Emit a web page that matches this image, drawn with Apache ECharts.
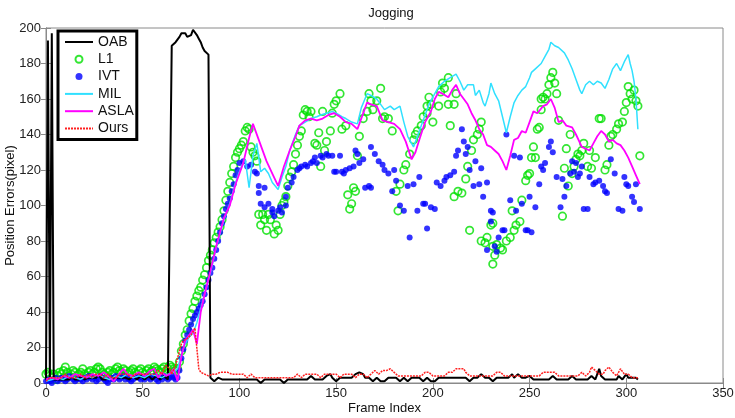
<!DOCTYPE html>
<html>
<head>
<meta charset="utf-8">
<script src="https://cdn.jsdelivr.net/npm/echarts@6/dist/echarts.min.js"></script>
<style>
html, body { margin: 0; padding: 0; background: #fff; }
#chart { width: 735px; height: 418px; }
</style>
</head>
<body>
<div id="chart"></div>
<script>
// error per frame (frame = index)
var oabErr = [
  2,193,3,197,2,1,2,3,2,1,2,3,2,4,3,2,3,2,4,3,2,1,3,4,3,2,3,5,4,2,3,2,1,3,4,3,2,3,4,3,
  2,3,4,2,3,4,3,2,3,4,3,2,3,4,3,2,3,4,3,2,3,4,3,2,3,
  190,191,192,193,195,197,198,197,195,194,196,199,198,196,194,192,189,187,186,185,
  3,2,1,2,3,4,2,1,2,3,2,1,2,1,2,
  1,2,3,2,1,2,1,2,3,2,1,0,1,2,1,2,3,2,1,2,
  1,2,1,0,1,2,1,2,3,2,1,2,3,2,1,2,3,4,3,2,
  1,2,3,2,3,4,3,5,3,2,1,2,3,2,3,4,3,2,3,4,
  5,4,6,7,5,3,2,3,2,1,2,3,2,1,2,1,2,3,2,3,
  4,3,2,1,2,3,2,1,2,3,4,3,4,3,2,1,2,3,2,1,
  2,1,2,3,2,3,4,3,2,3,2,3,4,3,2,3,4,3,2,1,
  2,3,2,3,4,5,4,3,2,3,2,1,2,3,2,3,2,3,4,3,
  4,5,3,4,5,4,3,2,3,4,4,3,2,3,2,3,2,1,2,3,
  2,3,4,3,2,1,2,3,2,3,2,3,4,3,2,3,2,1,2,3,
  2,3,4,3,2,3,8,4,3,2,3,2,1,2,3,2,4,3,2,3,
  5,3,2,3,2,3,2
];

var oursErr = [
  1,2,3,2,3,4,3,2,3,4,5,4,3,2,3,4,3,4,5,4,3,4,5,4,3,4,5,6,5,4,3,4,5,4,3,2,3,4,5,6,
  5,4,5,4,3,4,5,4,5,6,5,4,5,6,5,4,5,6,7,6,5,8,10,
  11,8,5,6,10,14,18,22,24,24,25,26,27,29,31,30,8,6,5,5,5,4,
  4,5,6,5,4,6,7,6,5,6,7,5,6,5,4,
  5,6,5,4,3,4,5,4,3,2,3,4,3,2,3,2,3,4,3,2,
  3,2,3,4,3,2,3,4,3,4,5,4,3,4,5,4,5,6,5,4,
  5,4,3,4,5,6,5,4,5,6,5,4,3,4,5,4,5,6,5,4,
  3,4,5,4,5,4,3,4,5,6,7,6,5,6,7,8,7,8,8,7,
  6,5,4,3,4,5,4,3,4,5,4,3,4,5,4,5,6,5,6,5,
  4,3,4,5,4,3,4,5,6,5,6,7,8,7,8,7,8,6,5,4,
  3,4,3,4,5,4,3,4,5,4,3,4,5,6,5,6,5,4,3,4,
  3,4,3,4,3,4,5,4,3,4,3,4,3,4,5,4,5,6,5,6,
  5,6,5,6,5,4,3,4,5,4,3,4,5,4,3,4,5,6,5,4,
  5,6,9,8,7,6,5,4,5,7,8,9,8,6,5,4,6,8,7,5,
  4,5,4,3,4,3,3
];

// [frame, error]
var milPts = [
  [0,1],[3,2],[6,3],[9,2],[12,4],[15,3],[18,2],[21,4],[24,3],[27,5],[30,3],[33,2],[36,4],[39,3],
  [42,5],[45,3],[48,4],[51,3],[54,5],[57,4],[60,3],[63,5],[66,6],[68,8],[70,16],[72,22],[74,26],
  [76,28],[78,34],[80,42],[82,50],[85,62],[88,76],[92,92],[95,101],[98,113],[101,122],[103,126],
  [105,110],[107,128],[109,135],[111,119],[113,121],[115,118],[117,113],[120,109],[122,116],
  [124,122],[126,131],[129,140],[131,145],[134,147],[137,149],[140,150],[142,151],[145,152],
  [148,153],[150,152],[153,150],[155,149],[158,147],[161,146],[163,155],[166,163],[168,162],
  [171,160],[173,157],[175,154],[178,156],[180,154],[183,156],[185,147],[187,139],[190,133],
  [193,142],[196,151],[198,157],[200,161],[203,167],[206,170],[209,172],[212,174],[214,170],
  [216,165],[218,168],[221,168],[222,162],[224,165],[226,158],[227,156],[229,163],[230,169],
  [232,163],[234,159],[236,150],[238,141],[240,150],[242,158],[244,162],[246,165],[248,167],
  [250,172],[251,175],[253,177],[256,180],[258,184],[260,188],[261,192],[263,190],[265,189],
  [268,186],[270,182],[272,177],[274,171],[276,165],[277,163],[279,168],[281,170],[283,168],
  [285,170],[287,169],[289,166],[291,171],[293,177],[295,180],[297,176],[299,181],[301,185],
  [302,180],[303,176],[304,170],[305,160],[306,143]
];

var aslaPts = [
  [0,2],[3,3],[6,2],[9,4],[12,3],[15,5],[18,4],[21,3],[24,5],[27,4],[30,6],[33,3],[35,1],[37,4],
  [40,8],[42,5],[45,4],[48,6],[51,4],[54,7],[56,8],[58,3],[60,6],[62,4],[64,5],[66,8],[68,1],
  [70,15],[72,24],[74,27],[76,30],[77,31],[78,22],[80,40],[82,50],[85,63],[88,77],[92,93],
  [95,100],[98,112],[102,124],[105,138],[107,146],[110,137],[114,125],[117,118],[120,111],
  [123,122],[126,131],[129,139],[131,145],[134,148],[137,149],[140,148],[143,149],[146,151],
  [149,152],[152,150],[155,147],[158,146],[161,143],[164,152],[166,158],[168,157],[171,156],
  [174,148],[177,147],[180,146],[183,143],[186,136],[189,126],[191,130],[193,137],[196,147],
  [199,153],[201,160],[203,164],[205,163],[208,161],[210,165],[212,168],[214,163],[216,160],
  [218,157],[220,152],[222,148],[224,143],[226,140],[228,134],[230,133],[232,131],[234,129],
  [236,125],[238,120],[240,128],[242,137],[244,138],[246,142],[248,141],[250,147],[252,153],
  [254,152],[257,156],[259,157],[261,160],[263,155],[265,147],[267,148],[269,145],[272,144],
  [274,140],[277,133],[279,132],[281,131],[283,135],[285,139],[287,142],[289,140],[291,136],
  [293,137],[295,135],[297,134],[299,131],[301,127],[303,122],[305,117],[307,112]
];

var l1Pts = [
  [0,5],[1,6],[2,4],[3,3],[4,5],[5,2],[6,4],[7,6],[8,5],[9,7],[10,9],[11,6],[12,4],[13,5],[14,7],
  [15,6],[16,4],[17,5],[18,6],[19,8],[20,5],[21,4],[22,6],[23,7],[24,5],[25,6],[26,8],[27,9],
  [28,8],[29,6],[30,5],[31,4],[32,6],[33,7],[34,5],[35,6],[36,8],[37,9],[38,7],[39,6],[40,8],
  [41,7],[42,5],[43,6],[44,7],[45,8],[46,6],[47,5],[48,7],[49,8],[50,6],[51,5],[52,7],[53,8],
  [54,6],[55,7],[56,9],[57,8],[58,7],[59,6],[60,8],[61,9],[62,7],[63,8],[64,10],[65,9],[66,8],
  [67,7],[68,8],[69,12],[70,18],[71,22],[72,27],[73,30],[74,35],[75,39],[76,42],[77,46],[78,49],
  [79,52],[80,54],[81,58],[82,61],[83,65],[84,69],[85,72],[86,75],[87,79],[88,82],[89,85],
  [90,88],[91,92],[92,97],[93,103],[94,108],[95,113],[96,118],[97,122],[98,127],[99,130],
  [100,132],[101,134],[102,136],[103,142],[104,144],[105,143],[106,133],[107,130],[108,128],
  [109,125],[110,95],[111,89],[112,95],[113,92],[114,86],[115,95],[116,92],[118,84],[119,89],
  [120,86],[121,95],[122,100],[123,102],[124,105],[125,111],[126,116],[127,119],[128,123],
  [129,129],[130,134],[131,139],[132,142],[133,151],[134,154],[135,153],[136,150],[137,153],
  [139,135],[140,134],[141,141],[142,122],[143,153],[144,131],[145,136],[147,142],[148,152],
  [149,157],[150,159],[152,163],[153,143],[155,145],[156,106],[157,98],[158,101],[159,110],
  [160,108],[161,128],[162,139],[164,149],[166,153],[167,163],[168,159],[169,154],[171,159],
  [173,166],[174,149],[175,150],[177,149],[179,142],[181,108],[182,97],[183,112],[185,120],
  [186,123],[188,129],[190,137],[191,140],[192,142],[194,145],[195,150],[197,156],[198,161],
  [197,152],[199,157],[200,147],[203,156],[204,164],[205,169],[206,166],[208,172],[209,145],
  [208,157],[211,157],[212,163],[211,105],[213,108],[215,107],[217,115],[218,122],[219,86],
  [220,131],[221,137],[223,140],[224,143],[225,147],[225,80],[227,79],[228,82],[230,89],
  [231,90],[231,77],[232,72],[231,67],[233,78],[235,76],[236,75],[238,80],[240,82],[241,97],
  [242,86],[243,89],[245,91],[246,103],[248,114],[249,117],[250,118],[251,127],[252,133],
  [253,127],[254,143],[255,144],[256,154],[256,160],[257,161],[258,160],[259,163],[260,168],
  [261,172],[262,175],[263,169],[264,163],[265,148],[267,94],[268,121],[269,132],[270,111],
  [271,140],[272,118],[273,122],[274,126],[275,129],[276,128],[277,131],[278,135],[280,122],
  [281,131],[282,121],[284,127],[286,149],[287,149],[289,120],[290,123],[291,134],[292,139],
  [293,140],[295,143],[296,146],[298,147],[299,153],[300,158],[301,167],[302,163],[303,160],
  [304,165],[305,159],[306,156],[307,128]
];

var ivtPts = [
  [0,1],[1,2],[2,1],[3,0],[4,2],[5,3],[6,1],[7,2],[8,3],[9,2],[10,1],[11,2],[12,4],[13,3],[14,2],
  [15,1],[16,2],[17,3],[18,2],[19,1],[20,3],[21,2],[22,4],[23,3],[24,2],[25,3],[26,1],[27,2],
  [28,4],[29,3],[30,2],[31,1],[32,0],[33,2],[34,3],[35,2],[36,4],[37,3],[38,2],[39,3],[40,4],
  [41,2],[42,3],[43,2],[44,1],[45,2],[46,3],[47,4],[48,3],[49,2],[50,3],[51,2],[52,4],[53,3],
  [54,2],[55,3],[56,4],[57,2],[58,1],[59,3],[60,2],[61,4],[62,3],[63,2],[64,3],[65,4],[66,3],
  [67,2],[68,3],[69,7],[70,14],[71,19],[72,24],[73,27],[74,30],[75,33],[76,36],[77,38],[78,40],
  [79,42],[80,44],[81,46],[82,50],[83,54],[84,58],[85,62],[86,65],[87,70],[88,75],[89,80],
  [90,85],[91,90],[92,94],[93,98],[94,101],[95,104],[96,108],[97,112],[98,117],[99,120],
  [100,124],[102,125],[104,122],[106,123],[108,119],[109,118],[110,111],[113,110],[110,107],
  [111,101],[113,99],[115,101],[117,98],[117,96],[118,94],[120,97],[121,99],[122,96],[124,100],
  [124,105],[125,110],[127,113],[128,116],[130,120],[131,121],[132,122],[134,123],[135,122],
  [137,124],[138,125],[139,127],[140,124],[142,128],[143,127],[145,129],[146,128],[148,128],
  [149,119],[150,119],[152,128],[153,119],[154,118],[155,120],[157,121],[159,122],[160,131],
  [161,129],[162,124],[164,126],[165,110],[167,111],[168,133],[168,110],[170,129],[172,125],
  [174,123],[175,120],[177,118],[179,108],[180,120],[181,114],[183,100],[185,97],[187,111],
  [188,82],[190,112],[192,97],[193,116],[195,101],[196,101],[197,87],[199,99],[201,98],
  [202,113],[204,111],[206,114],[207,116],[209,117],[211,119],[212,128],[213,131],[215,143],
  [216,136],[217,129],[218,133],[219,120],[221,111],[222,125],[224,112],[225,121],[226,105],
  [228,113],[228,75],[230,97],[230,91],[231,96],[232,77],[233,74],[234,82],[236,86],[237,86],
  [238,140],[240,103],[242,128],[243,97],[245,127],[246,101],[248,86],[249,86],[250,105],
  [251,85],[253,99],[255,112],[256,122],[257,120],[258,124],[260,133],[261,136],[262,130],
  [264,116],[266,99],[267,115],[268,105],[269,111],[271,118],[272,125],[273,119],[274,124],
  [275,116],[276,118],[277,122],[278,98],[280,98],[281,116],[283,112],[284,113],[286,114],
  [288,111],[289,108],[290,107],[292,126],[294,118],[296,98],[298,97],[299,116],[300,112],
  [301,111],[303,105],[304,102],[305,112],[307,98]
];

var xTicks = { min: 0, max: 350, interval: 50 };
var yTicks = { min: 0, max: 200, interval: 20 };

var font = 'Liberation Sans, Arial, sans-serif';
var chart = echarts.init(document.getElementById('chart'));

var tickStyle = { inside: true, length: 5, lineStyle: { color: '#8a8a8a' } };
var lineStyleAxis = { show: true, lineStyle: { color: '#8a8a8a', width: 1 } };
// legend entries for line series: just the stroke, no marker
var noMarker = { opacity: 0 };

var option = {
  animation: false,
  backgroundColor: '#fff',
  title: {
    text: 'Jogging',
    left: 386, top: 2, textAlign: 'center',
    textStyle: { fontFamily: font, fontSize: 13, fontWeight: 'normal', color: '#111' }
  },
  legend: {
    orient: 'vertical',
    left: 58, top: 31,
    backgroundColor: '#fff',
    borderColor: '#000', borderWidth: 3,
    padding: [4, 3, 4, 6],
    itemGap: 3.3,
    itemWidth: 28, itemHeight: 7,
    itemTextGap: 2,
    textStyle: { fontFamily: font, fontSize: 14, color: '#111' },
    data: [
      { name: 'OAB', itemStyle: noMarker },
      { name: 'L1' },
      { name: 'IVT' },
      { name: 'MIL', itemStyle: noMarker },
      { name: 'ASLA', itemStyle: noMarker },
      { name: 'Ours', itemStyle: noMarker }
    ]
  },
  grid: {
    left: 46, right: 12, top: 28, bottom: 35,
    containLabel: false, outerBoundsMode: 'none',
    show: true, borderColor: '#8a8a8a', borderWidth: 1
  },
  xAxis: [{
    type: 'value', min: xTicks.min, max: xTicks.max, interval: xTicks.interval,
    name: 'Frame Index', nameLocation: 'middle', nameGap: 19, nameMoveOverlap: false,
    nameTextStyle: { fontFamily: font, fontSize: 13, color: '#111' },
    axisLine: lineStyleAxis, axisTick: tickStyle, splitLine: { show: false },
    axisLabel: { fontFamily: font, fontSize: 13, color: '#222', margin: 4 }
  }, {
    type: 'value', position: 'top', min: xTicks.min, max: xTicks.max, interval: xTicks.interval,
    axisLine: lineStyleAxis, axisTick: tickStyle, splitLine: { show: false }, axisLabel: { show: false }
  }],
  yAxis: [{
    type: 'value', min: yTicks.min, max: yTicks.max, interval: yTicks.interval,
    name: 'Position Errors(pixel)', nameLocation: 'middle', nameGap: 29, nameMoveOverlap: false,
    nameTextStyle: { fontFamily: font, fontSize: 13, color: '#111' },
    axisLine: lineStyleAxis, axisTick: tickStyle, splitLine: { show: false },
    axisLabel: { fontFamily: font, fontSize: 13, color: '#222', margin: 5 }
  }, {
    type: 'value', position: 'right', min: yTicks.min, max: yTicks.max, interval: yTicks.interval,
    axisLine: lineStyleAxis, axisTick: tickStyle, splitLine: { show: false }, axisLabel: { show: false }
  }],
  series: [
    {
      name: 'OAB', type: 'line', symbol: 'none', color: '#000',
      lineStyle: { color: '#000', width: 2 },
      data: oabErr.map(function (v, i) { return [i, v]; })
    },
    {
      name: 'L1', type: 'scatter', symbol: 'circle', symbolSize: 7.5, color: '#00e000',
      itemStyle: { color: 'rgba(0,0,0,0)', borderColor: '#00e000', borderWidth: 1.7 },
      data: l1Pts
    },
    {
      name: 'IVT', type: 'scatter', symbol: 'circle', symbolSize: 6, color: '#0000ff',
      itemStyle: { color: '#0000ff' },
      data: ivtPts
    },
    {
      name: 'MIL', type: 'line', symbol: 'none', color: '#30e0ff',
      lineStyle: { color: '#30e0ff', width: 1.5 },
      data: milPts
    },
    {
      name: 'ASLA', type: 'line', symbol: 'none', color: '#ff00ff',
      lineStyle: { color: '#ff00ff', width: 1.8 },
      data: aslaPts
    },
    {
      name: 'Ours', type: 'line', symbol: 'none', color: '#ff2020',
      lineStyle: { color: '#ff2020', width: 1.5, type: [2, 1] },
      data: oursErr.map(function (v, i) { return [i, v]; })
    }
  ]
};

chart.setOption(option);
</script>
</body>
</html>
